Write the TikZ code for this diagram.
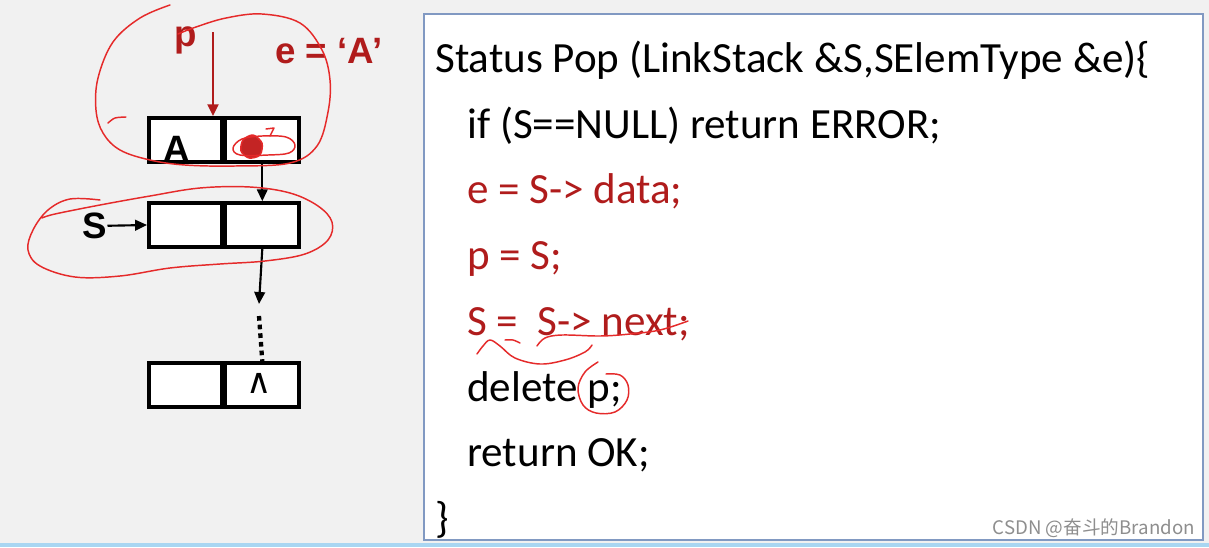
\documentclass[tikz,border=0pt]{standalone}
\usepackage{fontspec}
\setmainfont{Carlito}
\newfontfamily\arialfont{Liberation Sans}
\newfontfamily\symfont{DejaVu Sans}
\newfontfamily\cjk{Noto Sans CJK SC}
\usetikzlibrary{positioning,arrows.meta}
\definecolor{codered}{HTML}{B01C1C}
\definecolor{inkred}{HTML}{E52A2A}
\definecolor{framebl}{HTML}{8199C2}
\definecolor{bggrey}{HTML}{F1F1F1}
\definecolor{barblue}{HTML}{A9D6F2}
\definecolor{markgrey}{HTML}{8E8E8E}

\begin{document}
\begin{tikzpicture}[x=0.75pt,y=-0.75pt]
    \tikzstyle{cell} = [rectangle, draw=black, line width=2.6pt, fill=white, minimum width=55pt, minimum height=33pt, inner sep=0pt]
    \tikzstyle{codeline} = [anchor=base west, inner sep=0pt, font=\fontsize{32.3}{38}\selectfont]
    \tikzstyle{tag} = [inner sep=0pt, font=\arialfont\bfseries\fontsize{27.5}{30}\selectfont]
    \tikzstyle{arrow} = [line width=1.6pt, -{Triangle[length=9pt,width=8pt]}]
    \tikzstyle{ink} = [draw=inkred, line width=1.1pt, line cap=round, line join=round]

    % background and code frame
    \fill[bggrey] (0,0) rectangle (1209,547);
    \useasboundingbox (0,0) rectangle (1209,547);
    \fill[barblue] (0,543) rectangle (1209,547);
    \draw[framebl, line width=2pt, fill=white] (424,14) rectangle (1203,540);

    % linked stack
    \node (a1) [cell] at (185.5,140) {};
    \node (a2) [cell, right=0pt of a1] {};
    \node (b1) [cell] at (185.5,225) {};
    \node (b2) [cell, right=0pt of b1] {};
    \node (c1) [cell] at (185.5,385) {};
    \node (c2) [cell, right=0pt of c1] {};
    \node (nil) [inner sep=0pt, anchor=base, font=\symfont\fontsize{26}{26}\selectfont] at (259,393) {∧};
    \node (txtA) [tag, anchor=base] at (177,161) {A};

    \node (s) [tag] at (95,226) {S};
    \node (p) [tag, text=codered] at (186,40) {p};
    \node (eA) [tag, text=codered, anchor=base west] at (275,63) {e = ‘A’};
    \coordinate (ptop) at (213,32);
    \coordinate (dots) at (259,304);

    \draw [arrow] (a2.south) -- (b2.north);
    \draw [arrow] (b2.south) -- (dots);
    \draw [line width=3.2pt, dash pattern=on 3.5pt off 3pt] ([yshift=-9pt]dots) -- (c2.north);
    \draw [arrow] (s) -- (b1.west);
    \draw [arrow, codered, line width=2.2pt] (ptop) -- (ptop |- a1.north);

    % code
    \node (l1) [codeline] at (435,72) {Status Pop (LinkStack \&S,SElemType \&e)\{};
    \node (l2) [codeline] at (467,138) {if (S==NULL) return ERROR;};
    \node (l3) [codeline, text=codered] at (467,203.5) {e = S-> data;};
    \node (l4) [codeline, text=codered] at (467,269) {p = S;};
    \node (l5) [codeline, text=codered] at (467,335) {S = \ S-> next;};
    \node (l6) [codeline] at (467,401) {delete p;};
    \node (l7) [codeline] at (467,466.5) {return OK;};
    \node (l8) [codeline] at (435,532) {\}};

    \node (mark) [anchor=base east, inner sep=0pt, text=markgrey, font=\cjk\fontsize{14}{16}\selectfont] at (1195,534) {CSDN @奋斗的Brandon};

    % hand-drawn marks
    \draw[ink] plot[smooth, tension=0.6] coordinates {(170,5) (140,18) (113,42) (98,78) (96,110) (103,133) (120,150) (150,160) (185,165) (235,166) (290,163) (317,146) (328,112) (330,80) (322,50) (300,23) (262,14) (226,18) (196,27) (178,34)};
    \draw[ink] plot[smooth] coordinates {(126,117) (115,118) (108,123)};
    \draw[ink, fill=inkred!85!black] plot[smooth cycle] coordinates {(243,140) (253,135) (262,143) (260,155) (249,158) (241,151)};
    \draw[ink] plot[smooth cycle, tension=0.6] coordinates {(240,155) (233,148) (242,139) (262,136) (286,137) (295,145) (289,153) (268,155)};
    \draw[ink] (266,129) -- (274,128) -- (270,136);
    \draw[ink] plot[smooth, tension=0.6] coordinates {(100,200) (70,199) (48,210) (33,230) (28,250) (40,266) (75,277) (120,276) (170,268) (220,264) (265,261) (305,254) (328,240) (332,222) (318,206) (290,193) (250,187) (200,188) (150,196) (100,205) (55,214) (42,218)};

    \draw[ink] plot[smooth, tension=0.6] coordinates {(477,354) (483,346) (490,340) (500,346) (515,358) (540,364) (565,360) (585,352) (592,345)};
    \draw[ink] plot[smooth] coordinates {(505,340) (513,340) (520,343)};
    \draw[ink] plot[smooth, tension=0.6] coordinates {(537,346) (545,338) (562,335) (600,336) (630,334) (660,330) (688,321)};
    \draw[ink] plot[smooth, tension=0.6] coordinates {(598,362) (585,372) (578,388) (583,405) (596,413) (615,412) (627,400) (628,385) (620,375) (606,374)};
\end{tikzpicture}
\end{document}
